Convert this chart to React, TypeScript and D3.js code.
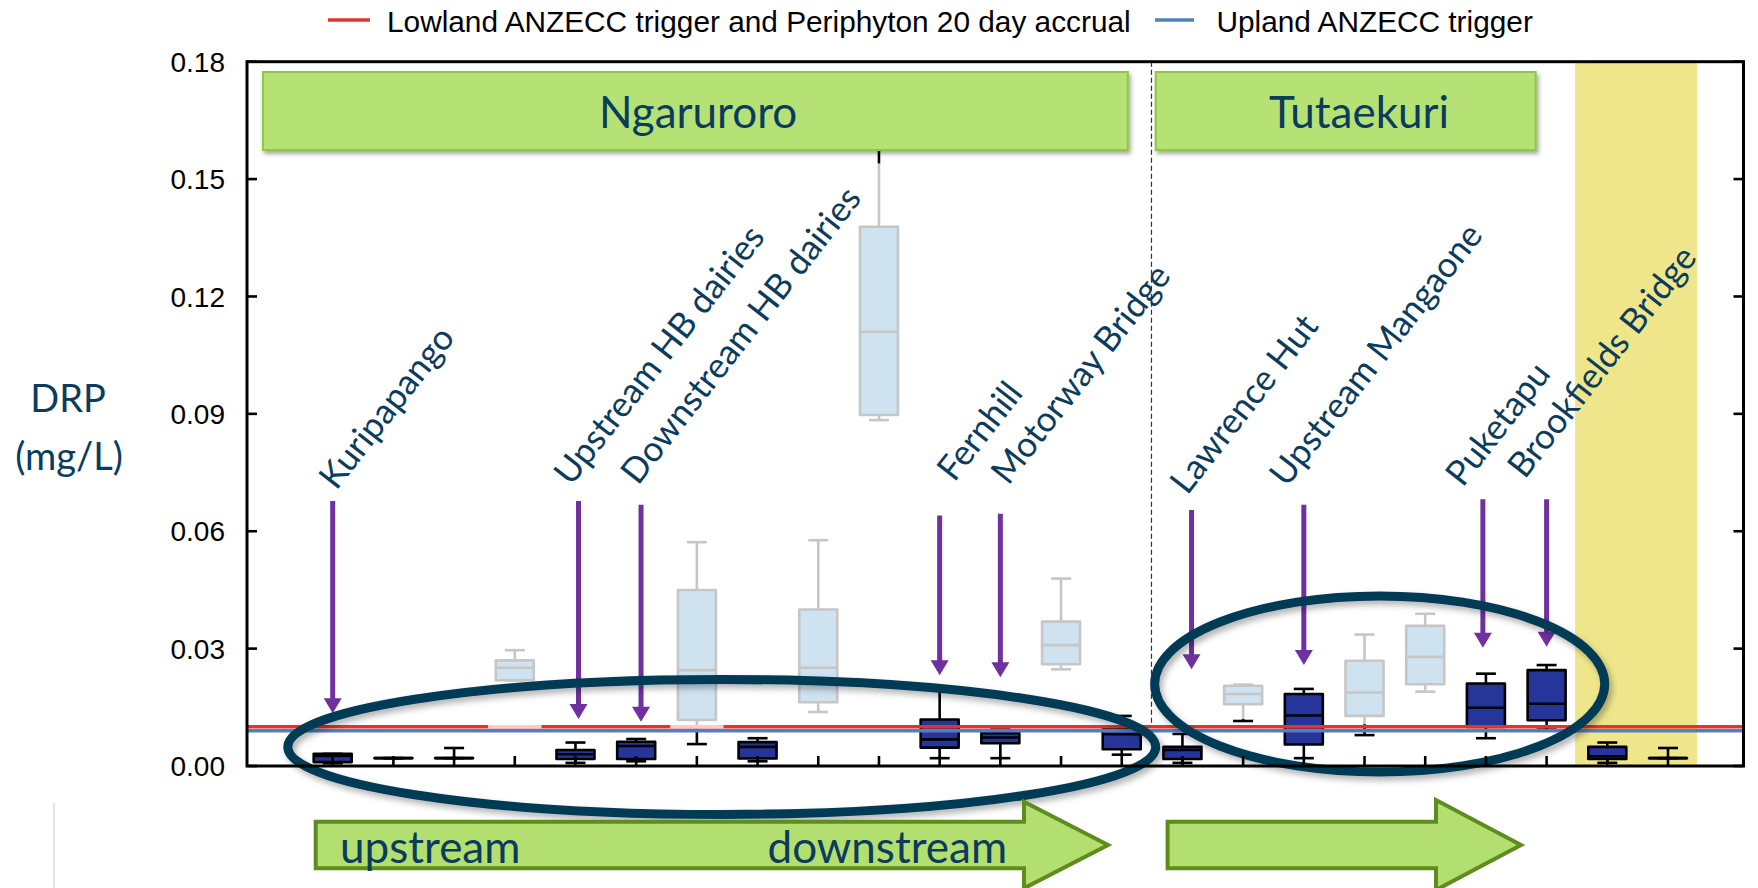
import React from 'react';
import * as d3 from 'd3';

// DRP (mg/L) box summaries per monitoring site, ordered upstream to downstream
const siteCount = 23;
const whiskerLow = [0.0007, 0.002, 0.002, 0.0219, 0.0008, 0.0012, 0.0056, 0.0012, 0.0138, 0.0884, 0.002, 0.002, 0.0247, 0.0029, 0.0008, 0.0115, 0.002, 0.0079, 0.019, 0.0071, 0.0093, 0.0008, 0.002];
const quartile1 = [0.001, 0.002, 0.002, 0.0219, 0.0018, 0.0018, 0.01175, 0.0019, 0.0163, 0.0897, 0.0047, 0.0058, 0.026, 0.0043, 0.0018, 0.0158, 0.0055, 0.0128, 0.0209, 0.01, 0.0117, 0.0018, 0.002];
const medians = [0.0026, 0.002, 0.002, 0.0251, 0.003, 0.0051, 0.0245, 0.0049, 0.0251, 0.111, 0.0068, 0.0073, 0.0309, 0.0081, 0.0041, 0.0184, 0.0129, 0.0188, 0.0279, 0.0149, 0.0159, 0.0025, 0.002];
const quartile3 = [0.0031, 0.002, 0.002, 0.027, 0.0041, 0.0062, 0.045, 0.0061, 0.04, 0.1378, 0.0119, 0.0084, 0.0369, 0.0094, 0.0049, 0.0205, 0.0184, 0.0269, 0.0358, 0.0211, 0.0245, 0.0049, 0.002];
const whiskerHigh = [0.0031, 0.002, 0.0046, 0.0296, 0.006, 0.0069, 0.0572, 0.0071, 0.0577, 0.17, 0.0195, 0.0093, 0.0479, 0.0128, 0.0082, 0.0208, 0.0197, 0.0336, 0.0389, 0.0236, 0.0258, 0.006, 0.0046];
// Greyed-out sites: the wash covers values between the floor and the ceiling (null = highlighted site)
const fadeFloor: (number | null)[] = [null, null, null, 0.0094, null, null, 0.0094, null, 0.012, 0.012, null, null, 0.012, null, null, 0.012, null, 0.0107, 0.012, null, null, null, null];
const fadeCeiling = 0.154;

const lowlandTrigger = 0.01;
const uplandTrigger = 0.009;

const yTicks = [0, 0.03, 0.06, 0.09, 0.12, 0.15, 0.18];

// Highlighted sites with their pointer arrows and slanted labels
const pointedSites = ['Kuripapango', 'Upstream HB dairies', 'Downstream HB dairies', 'Fernhill', 'Motorway Bridge', 'Lawrence Hut', 'Upstream Mangaone', 'Puketapu', 'Brookfields Bridge'];
const pointedIndex = [0, 4, 5, 10, 11, 14, 16, 19, 20];
const pointerFrom = [0.0677, 0.0677, 0.0668, 0.064, 0.0645, 0.0654, 0.0668, 0.0682, 0.0682];
const pointerTo = [0.0135, 0.012, 0.0113, 0.0232, 0.0227, 0.0247, 0.0258, 0.0302, 0.0305];
const pointerShift = [0, 0.05, 0.08, 0, 0, 0.15, 0, -0.05, 0];
const labelBase = [0.0702, 0.0713, 0.0715, 0.0723, 0.0715, 0.069, 0.071, 0.071, 0.0731];
const labelShift = [0.06, -0.07, 0.03, 0.24, 0.13, 0.08, -0.28, -0.38, -0.36];

// Catchment banners (spans in site units) and the estuary band
const catchments = ['Ngaruroro', 'Tutaekuri'];
const catchmentFrom = [-1.15, 13.56];
const catchmentTo = [13.1, 19.82];
const catchmentTitleAt = [6.02, 16.91];
const catchmentDivider = 13.49;
const estuaryFrom = 20.47;
const estuaryTo = 22.48;

// Grouping ellipses (centre in site units / mg/L, radii in site steps / mg/L)
const groupCx = [6.41, 17.25];
const groupCy = [0.00486, 0.02096];
const groupRx = [7.15, 3.707];
const groupRy = [0.01725, 0.0225];

const legendItems = ['Lowland ANZECC trigger and Periphyton 20 day accrual', 'Upland ANZECC trigger'];

const W = 1758;
const H = 888;
const plot = { left: 247, right: 1743.5, top: 61.7, bottom: 766 };
const navy = '#0b3c5d';
const calibri = 'Lato, "Open Sans", sans-serif';
const arial = '"Liberation Sans", Arial, sans-serif';

const y = d3.scaleLinear().domain([0, 0.18]).range([plot.bottom, plot.top]);
const x = d3.scalePoint<number>().domain(d3.range(siteCount)).range([332.7, 1668]);
const at = (c: number) => (x(0) as number) + c * x.step();

function splitSegments(a: number, b: number, floor: number | null) {
  const lo = Math.min(a, b);
  const hi = Math.max(a, b);
  const cuts = [lo, hi];
  if (floor !== null) {
    [floor, fadeCeiling].forEach((c) => {
      if (c > lo && c < hi) cuts.push(c);
    });
  }
  cuts.sort((p, q) => p - q);
  const out: { v0: number; v1: number; faded: boolean }[] = [];
  for (let k = 0; k < cuts.length - 1; k++) {
    const mid = (cuts[k] + cuts[k + 1]) / 2;
    out.push({ v0: cuts[k], v1: cuts[k + 1], faded: floor !== null && mid >= floor && mid <= fadeCeiling });
  }
  return out;
}

function SiteBox({ i }: { i: number }) {
  const cx = x(i) as number;
  const floor = fadeFloor[i];
  const light = floor !== null;
  const grey = '#c6c6c6';
  const hw = 19;
  const cw = 10;
  const sw = 2.6;
  const faded = (v: number) => light && v >= (floor as number) && v <= fadeCeiling;
  const whisker = [...splitSegments(quartile3[i], whiskerHigh[i], floor), ...splitSegments(whiskerLow[i], quartile1[i], floor)];
  const y1 = y(quartile1[i]);
  const y3 = y(quartile3[i]);
  return (
    <g>
      {whisker.map((s, k) => (
        <line key={k} x1={cx} x2={cx} y1={y(s.v0)} y2={y(s.v1)} stroke={s.faded ? grey : '#000'} strokeWidth={sw} />
      ))}
      {[whiskerHigh[i], whiskerLow[i]].map((v, k) => (
        <line key={'c' + k} x1={cx - cw} x2={cx + cw} y1={y(v)} y2={y(v)} stroke={faded(v) ? grey : '#000'} strokeWidth={sw} />
      ))}
      <path
        d={`M${cx - hw},${y3}H${cx + hw}V${y1}H${cx - hw}Z`}
        fill={light ? '#cfe2f0' : '#26359a'}
        stroke={light ? grey : '#000'}
        strokeWidth={sw}
        strokeLinejoin="round"
      />
      <line x1={cx - hw} x2={cx + hw} y1={y(medians[i])} y2={y(medians[i])} stroke={light ? grey : '#000'} strokeWidth={sw} />
    </g>
  );
}

export default function App() {
  const step = x.step();
  const paleAt = d3.range(siteCount).filter((i) => fadeFloor[i] !== null && (fadeFloor[i] as number) < lowlandTrigger);

  return (
    <svg width={W} height={H} viewBox={`0 0 ${W} ${H}`} style={{ position: 'absolute', left: 0, top: 0, background: '#fff' }}>
      <defs>
        <filter id="bannerShadow" x="-5%" y="-20%" width="110%" height="150%">
          <feDropShadow dx="2" dy="3" stdDeviation="2" floodColor="#000" floodOpacity="0.35" />
        </filter>
        <filter id="ringShadow" x="-10%" y="-20%" width="120%" height="150%">
          <feDropShadow dx="3" dy="4" stdDeviation="3" floodColor="#000" floodOpacity="0.3" />
        </filter>
      </defs>

      {/* legend */}
      <g fontFamily={arial} fontSize={29.8} fill="#000">
        <line x1={328} x2={370} y1={20} y2={20} stroke="#e0352b" strokeWidth={3.5} />
        <text x={387} y={31.7}>{legendItems[0]}</text>
        <line x1={1155} x2={1194} y1={20} y2={20} stroke="#4f81bd" strokeWidth={3.5} />
        <text x={1216.5} y={31.7}>{legendItems[1]}</text>
      </g>

      {/* estuary band */}
      <rect x={at(estuaryFrom)} y={plot.top} width={at(estuaryTo) - at(estuaryFrom)} height={plot.bottom - plot.top} fill="#efe68b" />

      {/* catchment divider */}
      <line x1={at(catchmentDivider)} x2={at(catchmentDivider)} y1={plot.top} y2={y(lowlandTrigger)} stroke="#333" strokeWidth={1.2} strokeDasharray="5,3" />

      {/* boxes */}
      {d3.range(siteCount).map((i) => (
        <SiteBox key={i} i={i} />
      ))}

      {/* trigger lines */}
      <line x1={plot.left} x2={plot.right} y1={y(lowlandTrigger)} y2={y(lowlandTrigger)} stroke="#e0352b" strokeWidth={3.5} />
      {paleAt.map((i) => (
        <line key={i} x1={(x(i) as number) - step * 0.44} x2={(x(i) as number) + step * 0.44} y1={y(lowlandTrigger)} y2={y(lowlandTrigger)} stroke="#f7cccc" strokeWidth={3.5} />
      ))}
      <line x1={plot.left} x2={plot.right} y1={y(uplandTrigger)} y2={y(uplandTrigger)} stroke="#4f81bd" strokeWidth={3.5} />

      {/* catchment banners */}
      {catchments.map((name, k) => {
        const x0 = at(catchmentFrom[k]);
        const x1 = at(catchmentTo[k]);
        return (
          <g key={name}>
            <rect x={x0} y={72} width={x1 - x0} height={78} fill="#b5e174" stroke="#8cc83f" strokeWidth={2} filter="url(#bannerShadow)" />
            <text x={at(catchmentTitleAt[k])} y={128} textAnchor="middle" fontFamily={calibri} fontSize={44} fill={navy}>
              {name}
            </text>
          </g>
        );
      })}

      {/* pointer arrows */}
      {pointedSites.map((name, k) => {
        const px = (x(pointedIndex[k]) as number) + pointerShift[k] * step;
        const tip = y(pointerTo[k]);
        return (
          <g key={name} fill="#7030a0">
            <line x1={px} x2={px} y1={y(pointerFrom[k])} y2={tip - 12} stroke="#7030a0" strokeWidth={5} />
            <path d={`M${px - 9},${tip - 15}L${px + 9},${tip - 15}L${px},${tip}Z`} />
          </g>
        );
      })}

      {/* site labels */}
      {pointedSites.map((name, k) => {
        const lx = (x(pointedIndex[k]) as number) + labelShift[k] * step;
        const ly = y(labelBase[k]);
        return (
          <text key={name} transform={`translate(${lx},${ly}) rotate(-52)`} fontFamily={calibri} fontSize={35} fill={navy}>
            {name}
          </text>
        );
      })}

      {/* grouping ellipses */}
      {groupCx.map((c, k) => (
        <ellipse
          key={k}
          cx={at(c)}
          cy={y(groupCy[k])}
          rx={groupRx[k] * step}
          ry={y(0) - y(groupRy[k])}
          fill="none"
          stroke="#003b57"
          strokeWidth={9}
          filter="url(#ringShadow)"
        />
      ))}

      {/* frame and ticks */}
      <rect x={plot.left} y={plot.top} width={plot.right - plot.left} height={plot.bottom - plot.top} fill="none" stroke="#000" strokeWidth={3} />
      {yTicks.map((t) => (
        <g key={t}>
          <line x1={plot.left} x2={plot.left + 10} y1={y(t)} y2={y(t)} stroke="#000" strokeWidth={2.6} />
          <line x1={plot.right - 10} x2={plot.right} y1={y(t)} y2={y(t)} stroke="#000" strokeWidth={2.6} />
          <text x={225} y={y(t)} dy="0.36em" textAnchor="end" fontFamily={arial} fontSize={28} fill="#000">
            {d3.format('.2f')(t)}
          </text>
        </g>
      ))}
      {d3.range(siteCount).map((i) => (
        <line key={i} x1={x(i)} x2={x(i)} y1={plot.bottom} y2={plot.bottom - 10} stroke="#000" strokeWidth={2.6} />
      ))}

      {/* axis title */}
      <text x={68} y={412} textAnchor="middle" fontFamily={calibri} fontSize={38} fill={navy}>DRP</text>
      <text x={69} y={470} textAnchor="middle" fontFamily={calibri} fontSize={38} fill={navy}>(mg/L)</text>

      {/* flow direction arrows */}
      <line x1={54} x2={54} y1={803} y2={888} stroke="#e4e4e4" strokeWidth={2} />
      <path d="M315.7,821.7H1024V801.7L1108,845L1024,888.3V868.3H315.7Z" fill="#b3df70" stroke="#5e8c1f" strokeWidth={4} strokeLinejoin="miter" />
      <path d="M1167.6,821.7H1436V800L1521,845L1436,890V868.3H1167.6Z" fill="#b3df70" stroke="#5e8c1f" strokeWidth={4} strokeLinejoin="miter" />
      <text x={340} y={863} fontFamily={calibri} fontSize={44} fill={navy}>upstream</text>
      <text x={767.5} y={863} fontFamily={calibri} fontSize={44} fill={navy}>downstream</text>
    </svg>
  );
}
